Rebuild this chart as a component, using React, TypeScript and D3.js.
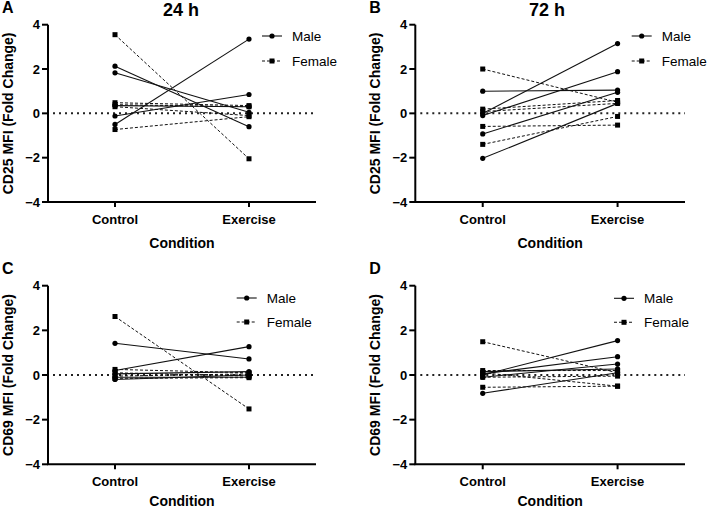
import React from "react";
import * as d3 from "d3";

const conditions = ["Control", "Exercise"];
const yTicks = [4, 2, 0, -2, -4];
const seriesNames = ["Male", "Female"];

// [Control, Exercise] per subject
const cd25_24h_male = [[2.13, -0.6], [1.83, 0.05], [-0.12, 0.85], [-0.5, 3.35], [0.35, 0.3]];
const cd25_24h_female = [[3.55, -2.05], [0.48, 0.35], [0.39, 0.3], [0.3, -0.1], [-0.73, -0.15]];
const cd25_72h_male = [[1.0, 1.05], [-0.01, 3.15], [-0.1, 1.88], [-0.93, 0.95], [-2.03, 0.45]];
const cd25_72h_female = [[2.0, 0.5], [0.19, 0.58], [0.08, 0.45], [-0.59, -0.53], [-1.4, -0.14]];
const cd69_24h_male = [[1.42, 0.72], [0.2, 1.27], [0.05, 0.15], [-0.2, 0.0], [-0.1, -0.1]];
const cd69_24h_female = [[2.62, -1.52], [0.25, 0.1], [0.1, -0.05], [-0.05, 0.05], [-0.15, -0.12]];
const cd69_72h_male = [[-0.82, 0.1], [0.0, 1.54], [0.05, 0.82], [-0.1, 0.49], [0.15, 0.27]];
const cd69_72h_female = [[1.49, 0.1], [-0.55, -0.5], [0.1, -0.5], [0.2, 0.2], [-0.1, -0.05]];

const FONT = "'Liberation Sans', Arial, Helvetica, sans-serif";

type PanelProps = {
  letter: string;
  title?: string;
  yLabel: string;
  male: number[][];
  female: number[][];
  x0: number;
  x1: number;
  yTop: number;
  yBot: number;
  legendX: number;
  legendY: number;
  legendGap: number;
  titleX?: number;
  condDy: number;
};

function Panel(p: PanelProps) {
  const x = d3.scalePoint<string>().domain(conditions).range([p.x0, p.x1]).padding(0.5);
  const y = d3.scaleLinear().domain([-4, 4]).range([p.yBot, p.yTop]);
  const line = d3
    .line<[string, number]>()
    .x((d) => x(d[0]) as number)
    .y((d) => y(d[1]));
  const toPts = (pair: number[]) => conditions.map((c, i) => [c, pair[i]] as [string, number]);
  const cx = (p.x0 + p.x1) / 2;
  const yMid = (p.yTop + p.yBot) / 2;
  return (
    <g>
      <text x={p.x0 - 46} y={p.yTop - 12} fontFamily={FONT} fontWeight="bold" fontSize={16}>
        {p.letter}
      </text>
      {p.title && (
        <text x={p.titleX ?? cx} y={p.yTop - 8.5} textAnchor="middle" fontFamily={FONT} fontWeight="bold" fontSize={18}>
          {p.title}
        </text>
      )}
      <text
        transform={`translate(${p.x0 - 35},${yMid}) rotate(-90)`}
        textAnchor="middle"
        fontFamily={FONT}
        fontWeight="bold"
        fontSize={14}
      >
        {p.yLabel}
      </text>
      <line
        x1={p.x0 + 5}
        x2={p.x1}
        y1={y(0)}
        y2={y(0)}
        stroke="#222"
        strokeWidth={2}
        strokeDasharray="2,4"
      />
      {p.female.map((pair, i) => (
        <g key={"f" + i}>
          <path d={line(toPts(pair)) as string} fill="none" stroke="#111" strokeWidth={1} strokeDasharray="3,2" />
          {conditions.map((c, j) => (
            <rect key={j} x={(x(c) as number) - 2.5} y={y(pair[j]) - 2.5} width={5} height={5} fill="#000" />
          ))}
        </g>
      ))}
      {p.male.map((pair, i) => (
        <g key={"m" + i}>
          <path d={line(toPts(pair)) as string} fill="none" stroke="#111" strokeWidth={1.1} />
          {conditions.map((c, j) => (
            <circle key={j} cx={x(c) as number} cy={y(pair[j])} r={2.6} fill="#000" />
          ))}
        </g>
      ))}
      <line x1={p.x0} x2={p.x0} y1={p.yTop} y2={p.yBot} stroke="#000" strokeWidth={2} />
      {yTicks.map((t) => (
        <g key={t}>
          <line x1={p.x0 - 6} x2={p.x0} y1={y(t)} y2={y(t)} stroke="#000" strokeWidth={2} />
          <text
            x={p.x0 - 8}
            y={y(t)}
            dy="0.36em"
            textAnchor="end"
            fontFamily={FONT}
            fontWeight="bold"
            fontSize={13}
          >
            {t < 0 ? "\u2212" + Math.abs(t) : String(t)}
          </text>
        </g>
      ))}
      <line x1={p.x0 - 1} x2={p.x1} y1={p.yBot} y2={p.yBot} stroke="#000" strokeWidth={2} />
      {conditions.map((c) => (
        <g key={c}>
          <line x1={x(c) as number} x2={x(c) as number} y1={p.yBot} y2={p.yBot + 5} stroke="#000" strokeWidth={2} />
          <text
            x={x(c) as number}
            y={p.yBot + 22}
            textAnchor="middle"
            fontFamily={FONT}
            fontWeight="bold"
            fontSize={13}
          >
            {c}
          </text>
        </g>
      ))}
      <text x={cx} y={p.yBot + p.condDy} textAnchor="middle" fontFamily={FONT} fontWeight="bold" fontSize={14}>
        Condition
      </text>
      {seriesNames.map((s, i) => {
        const ly = p.legendY + i * p.legendGap;
        const lx = p.legendX;
        return (
          <g key={s}>
            <line
              x1={lx}
              x2={lx + 20}
              y1={ly}
              y2={ly}
              stroke="#111"
              strokeWidth={1.1}
              strokeDasharray={i === 1 ? "3,2" : undefined}
            />
            {i === 0 ? (
              <circle cx={lx + 10} cy={ly} r={2.6} fill="#000" />
            ) : (
              <rect x={lx + 7.5} y={ly - 2.5} width={5} height={5} fill="#000" />
            )}
            <text x={lx + 30} y={ly} dy="0.36em" fontFamily={FONT} fontSize={13.5}>
              {s}
            </text>
          </g>
        );
      })}
    </g>
  );
}

export default function App() {
  return (
    <svg width={709} height={510} style={{ position: "absolute", left: 0, top: 0, background: "#fff" }}>
      <rect width={709} height={510} fill="#fff" />
      <Panel
        letter="A"
        title="24 h"
        yLabel="CD25 MFI (Fold Change)"
        male={cd25_24h_male}
        female={cd25_24h_female}
        x0={48}
        x1={316}
        yTop={24.7}
        yBot={202}
        legendX={262}
        legendY={36}
        legendGap={25}
        titleX={181}
        condDy={46}
      />
      <Panel
        letter="B"
        title="72 h"
        yLabel="CD25 MFI (Fold Change)"
        male={cd25_72h_male}
        female={cd25_72h_female}
        x0={415.3}
        x1={685}
        yTop={24.7}
        yBot={202}
        legendX={631.7}
        legendY={36}
        legendGap={25}
        titleX={547}
        condDy={46}
      />
      <Panel
        letter="C"
        yLabel="CD69 MFI (Fold Change)"
        male={cd69_24h_male}
        female={cd69_24h_female}
        x0={48}
        x1={316}
        yTop={285.7}
        yBot={464.3}
        legendX={236.7}
        legendY={298}
        legendGap={24}
        condDy={42}
      />
      <Panel
        letter="D"
        yLabel="CD69 MFI (Fold Change)"
        male={cd69_72h_male}
        female={cd69_72h_female}
        x0={415.3}
        x1={685}
        yTop={285.7}
        yBot={464.3}
        legendX={614}
        legendY={298.3}
        legendGap={24}
        condDy={42}
      />
    </svg>
  );
}
